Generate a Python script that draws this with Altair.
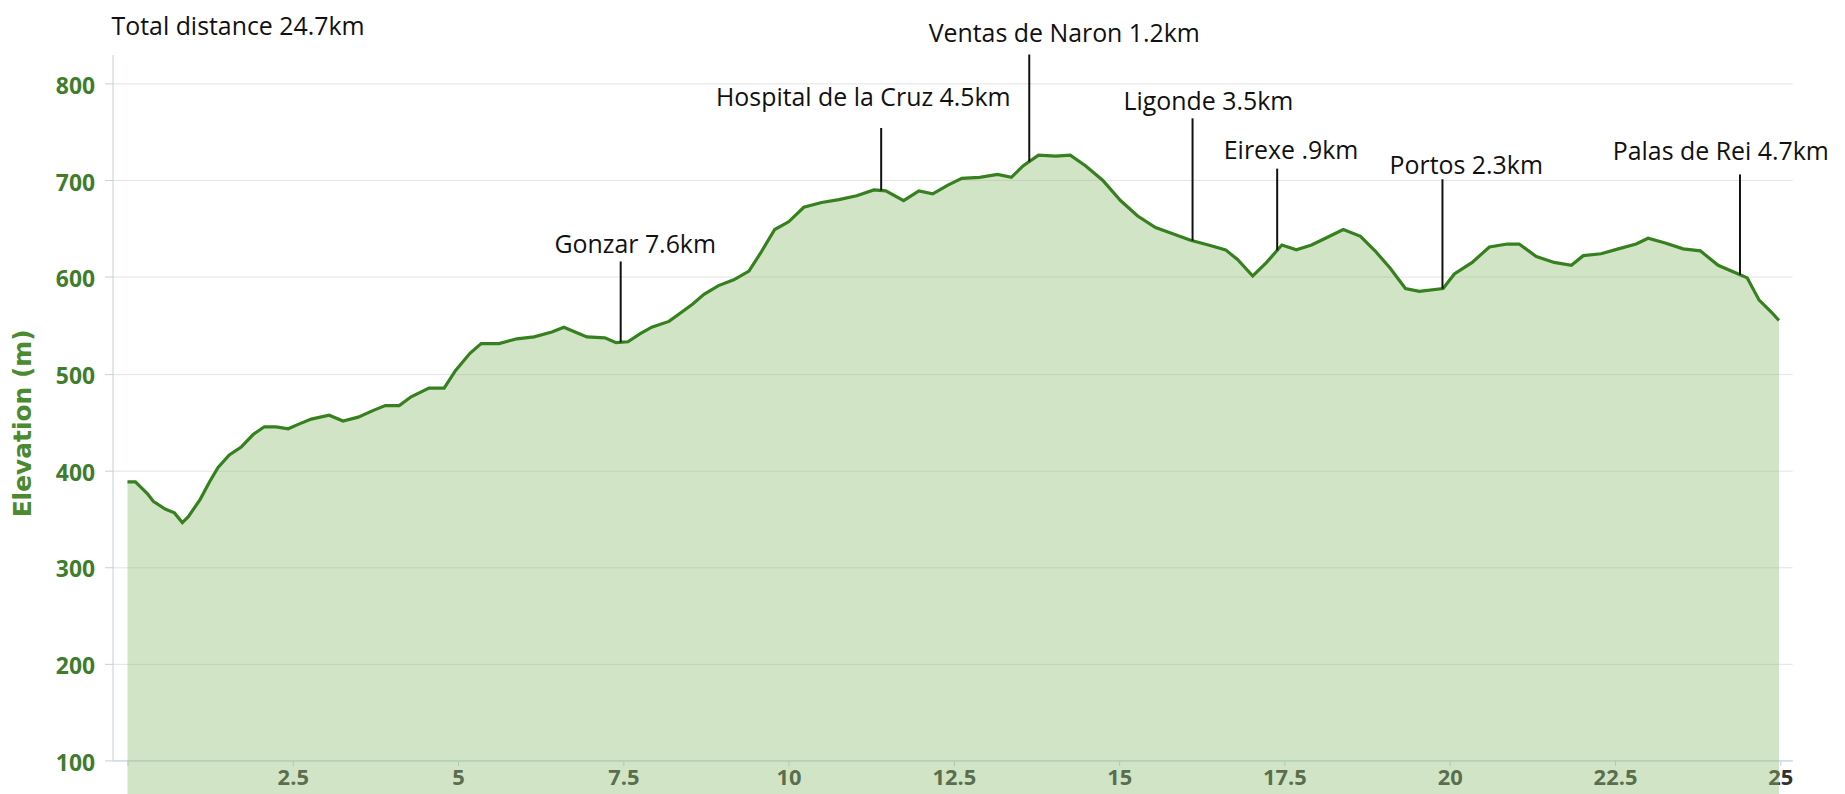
import altair as alt
import numpy as np
import pandas as pd

# Elevation profile (distance in km, elevation in m)
km = [0.00, 0.12, 0.30, 0.39, 0.57, 0.71, 0.83, 0.92, 1.10, 1.24, 1.37, 1.54, 1.72, 1.90,
      2.07, 2.25, 2.43, 2.60, 2.78, 3.05, 3.26, 3.49, 3.72, 3.90, 4.11, 4.29, 4.56, 4.79,
      4.96, 5.18, 5.35, 5.62, 5.89, 6.15, 6.42, 6.60, 6.77, 6.95, 7.22, 7.39, 7.57, 7.75,
      7.93, 8.19, 8.37, 8.55, 8.72, 8.94, 9.17, 9.40, 9.57, 9.79, 10.00, 10.23, 10.50,
      10.76, 11.03, 11.29, 11.47, 11.74, 11.97, 12.18, 12.41, 12.62, 12.89, 13.16, 13.37,
      13.55, 13.78, 14.04, 14.26, 14.49, 14.75, 15.02, 15.28, 15.55, 15.80, 16.08, 16.35,
      16.61, 16.79, 17.02, 17.23, 17.46, 17.68, 17.91, 18.12, 18.39, 18.65, 18.87, 19.10,
      19.33, 19.54, 19.90, 20.07, 20.34, 20.60, 20.87, 21.05, 21.31, 21.58, 21.84, 22.02,
      22.29, 22.55, 22.82, 23.00, 23.26, 23.53, 23.79, 24.06, 24.33, 24.50, 24.68, 24.86,
      24.98]
elev = [388, 388, 376, 368, 360, 356, 346, 352, 370, 388, 403, 416, 424, 437,
        445, 445, 443, 448, 453, 457, 451, 455, 462, 467, 467, 476, 485, 485,
        503, 521, 531, 531, 536, 538, 543, 548, 543, 538, 537, 532, 533, 541,
        548, 554, 563, 572, 582, 591, 597, 606, 624, 649, 657, 672, 677,
        680, 684, 690, 689, 679, 689, 686, 695, 702, 703, 706, 703,
        715, 726, 725, 726, 715, 700, 679, 663, 651, 645, 638, 633,
        628, 618, 601, 615, 633, 628, 633, 640, 649, 642, 627, 609,
        588, 585, 588, 603, 615, 631, 634, 634, 621, 615, 612, 622,
        624, 629, 634, 640, 635, 629, 627, 612, 604, 599, 576, 564,
        555]

# Waypoint annotations
place_names = ["Gonzar 7.6km", "Hospital de la Cruz 4.5km", "Ventas de Naron 1.2km",
               "Ligonde 3.5km", "Eirexe .9km", "Portos 2.3km", "Palas de Rei 4.7km"]
place_km = [7.46, 11.40, 13.64, 16.11, 17.39, 19.89, 24.39]
leader_top = [616, 754, 830, 764, 712, 701, 706]
label_km = [7.68, 11.13, 14.17, 16.35, 17.60, 20.25, 24.10]
label_elev = [633, 785, 851, 781, 730, 715, 729]

total_label = ["Total distance 24.7km"]
y_ticks = [100, 200, 300, 400, 500, 600, 700, 800]
x_ticks = [0, 2.5, 5, 7.5, 10, 12.5, 15, 17.5, 20, 22.5, 25]

profile = pd.DataFrame({"km": km, "elev": elev})
ann = pd.DataFrame({
    "name": place_names,
    "km": place_km,
    "top": leader_top,
    "base": np.interp(place_km, km, elev),
    "lkm": label_km,
    "lelev": label_elev,
})
head = pd.DataFrame({"label": total_label})

GREEN_TXT = "#3f7d2c"
xscale = alt.Scale(domain=[-0.226, 25.18], nice=False, zero=False)
yscale = alt.Scale(domain=[100, 830], nice=False, zero=False)

xaxis = alt.Axis(values=x_ticks, grid=False, title=None,
                 labelExpr="datum.value == 0 ? '' : format(datum.value, '~g')",
                 labelFont="Open Sans", labelFontSize=22, labelFontWeight="bold",
                 labelColor="#333333", labelPadding=2, tickSize=5,
                 tickColor="#c0d0e0", domainColor="#c0d0e0")
yaxis = alt.Axis(values=y_ticks, title="Elevation (m)",
                 titleFont="DejaVu Sans", titleFontSize=25, titleFontWeight="bold",
                 titleColor="#4a8a30", titleAngle=270, titleX=-90, titleY=370,
                 titleAlign="center", titleBaseline="middle",
                 labelFont="Open Sans", labelFontSize=23, labelFontWeight="bold",
                 labelColor=GREEN_TXT, labelPadding=10, labelOffset=3,
                 tickSize=8, tickColor="#c8cfd6", domainColor="#c8cfd6",
                 gridColor="#e3e3e3")

area = alt.Chart(profile).mark_area(color="#91c078", fillOpacity=0.42).encode(
    x=alt.X("km:Q", scale=xscale, axis=xaxis),
    y=alt.Y("elev:Q", scale=yscale, axis=yaxis),
)
line = alt.Chart(profile).mark_line(color="#36801f", strokeWidth=3.2).encode(
    x=alt.X("km:Q", scale=xscale),
    y=alt.Y("elev:Q", scale=yscale),
)
rules = alt.Chart(ann).mark_rule(color="#111111", strokeWidth=2).encode(
    x=alt.X("km:Q", scale=xscale),
    y=alt.Y("top:Q", scale=yscale),
    y2="base:Q",
)
texts = alt.Chart(ann).mark_text(font="Open Sans", fontSize=25, color="#111111",
                                 align="center", baseline="middle").encode(
    x=alt.X("lkm:Q", scale=xscale),
    y=alt.Y("lelev:Q", scale=yscale),
    text="name:N",
)
header = alt.Chart(head).mark_text(font="Open Sans", fontSize=25, color="#111111",
                                   align="left", baseline="middle").encode(
    x=alt.value(-1),
    y=alt.value(-28),
    text="label:N",
)

chart = alt.layer(area, line, rules, texts, header).properties(
    width=1687,
    height=709,
    padding={"left": 105, "top": 45, "right": 45, "bottom": 32},
    autosize=alt.AutoSizeParams(type="none"),
).configure_view(stroke=None)

chart.save("out.html", embed_options={"renderer": "svg", "actions": False})
